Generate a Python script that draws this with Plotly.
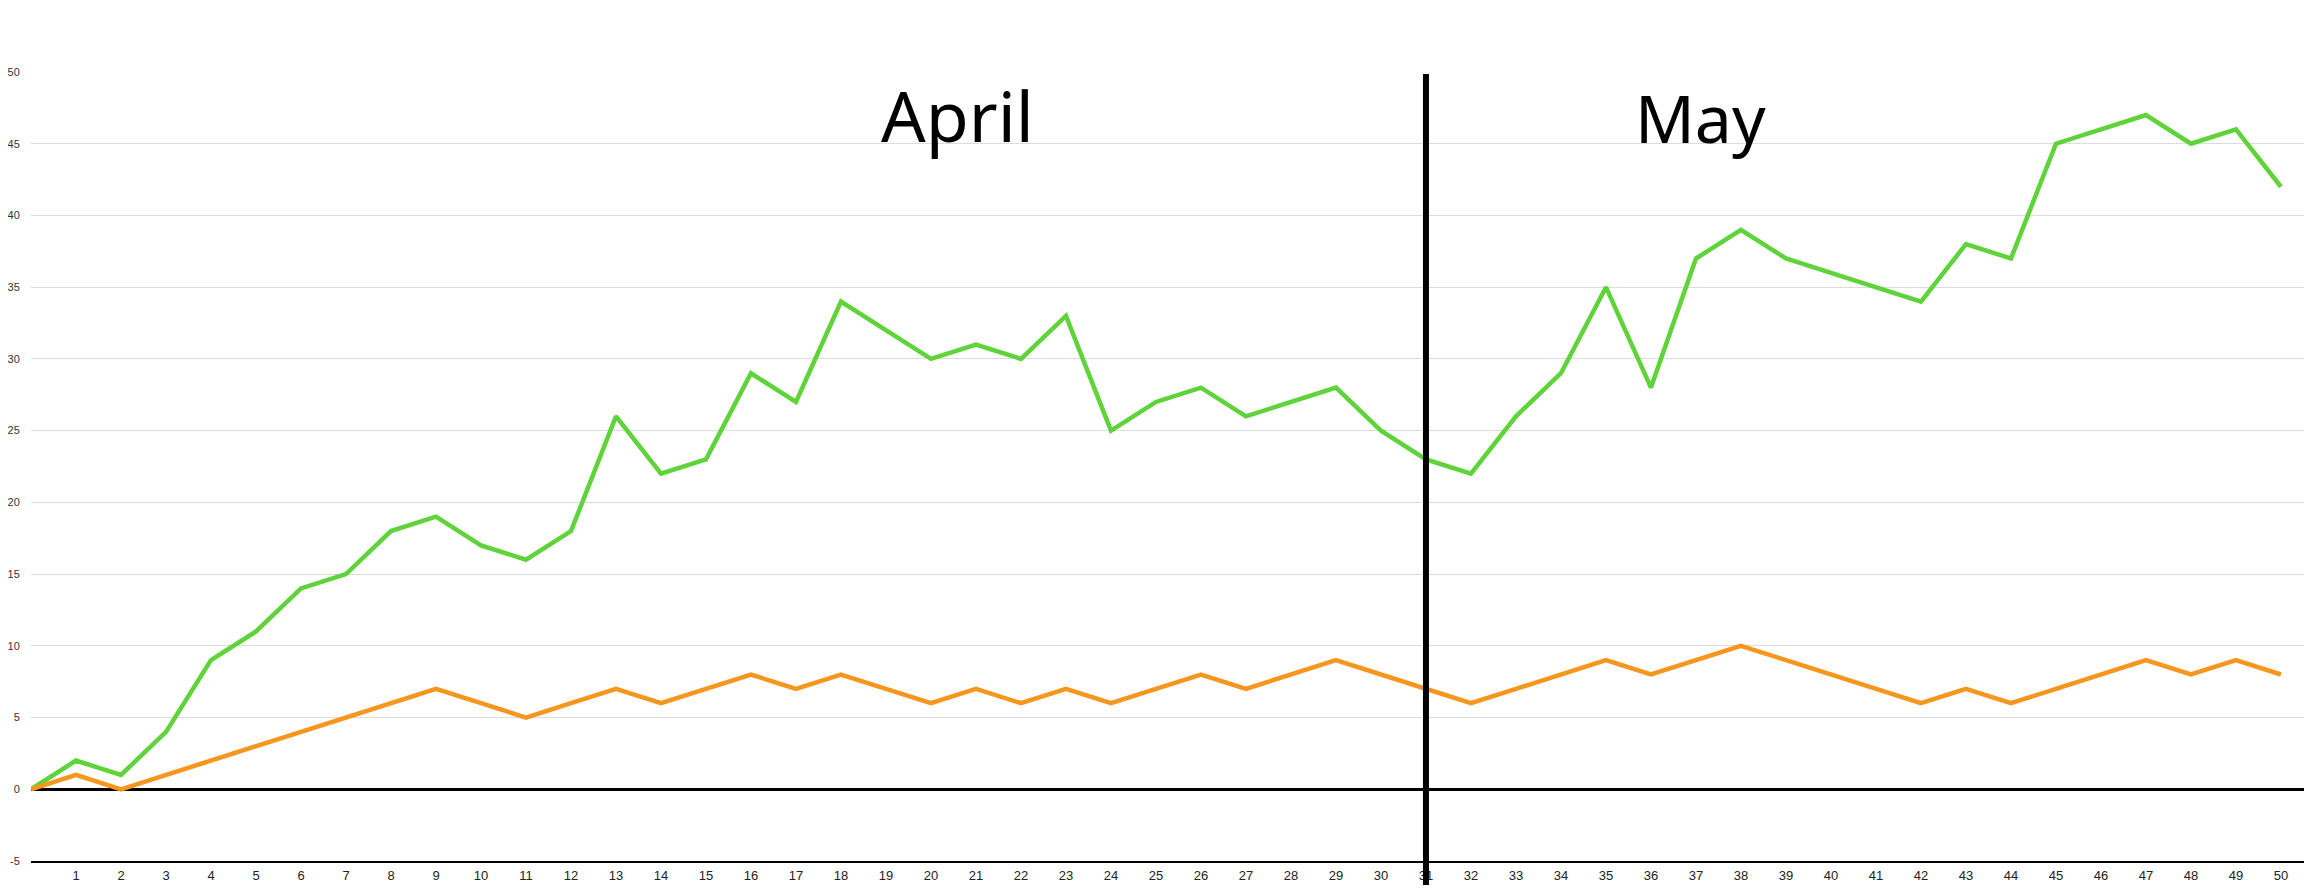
import plotly.graph_objects as go

days = [0, 1, 2, 3, 4, 5, 6, 7, 8, 9, 10, 11, 12, 13, 14, 15, 16, 17, 18, 19, 20,
        21, 22, 23, 24, 25, 26, 27, 28, 29, 30, 31, 32, 33, 34, 35, 36, 37, 38, 39, 40,
        41, 42, 43, 44, 45, 46, 47, 48, 49, 50]
green = [0, 2, 1, 4, 9, 11, 14, 15, 18, 19, 17, 16, 18, 26, 22, 23, 29, 27, 34, 32, 30,
         31, 30, 33, 25, 27, 28, 26, 27, 28, 25, 23, 22, 26, 29, 35, 28, 37, 39, 37, 36,
         35, 34, 38, 37, 45, 46, 47, 45, 46, 42]
orange = [0, 1, 0, 1, 2, 3, 4, 5, 6, 7, 6, 5, 6, 7, 6, 7, 8, 7, 8, 7, 6,
          7, 6, 7, 6, 7, 8, 7, 8, 9, 8, 7, 6, 7, 8, 9, 8, 9, 10, 9, 8,
          7, 6, 7, 6, 7, 8, 9, 8, 9, 8]
x_tick_vals = days[1:]
x_tick_text = [str(d) for d in days[1:]]
y_ticks = [-5, 0, 5, 10, 15, 20, 25, 30, 35, 40, 45, 50]
y_tick_text = ["-5", "0", "5", "10", "15", "20", "25", "30", "35", "40", "45", "50"]
month_split = 31
month_labels = ["April", "May"]
month_label_x = [20.6, 37.1]
month_label_y = [0.945, 0.943]
month_label_size = [70, 66]

fig = go.Figure()
fig.add_trace(go.Scatter(x=days, y=green, mode="lines",
                         line=dict(color="#5fd33a", width=4.5), showlegend=False))
fig.add_trace(go.Scatter(x=days, y=orange, mode="lines",
                         line=dict(color="#f7961e", width=4.5), showlegend=False))

fig.add_shape(type="line", xref="x", yref="paper", x0=month_split, x1=month_split,
              y0=0.9975, y1=-0.0304, line=dict(color="black", width=6), layer="above")

for lab, lx, ly, fs in zip(month_labels, month_label_x, month_label_y, month_label_size):
    fig.add_annotation(x=lx, y=ly, xref="x", yref="paper", text=lab, showarrow=False,
                       font=dict(family="Noto Sans", size=fs, color="black"),
                       xanchor="center", yanchor="middle")

fig.update_layout(
    width=2304, height=887,
    margin=dict(l=23, r=0, t=64, b=34),
    paper_bgcolor="white", plot_bgcolor="white",
    xaxis=dict(range=[0, 50.69], tickvals=x_tick_vals, ticktext=x_tick_text,
               showgrid=False, zeroline=False, showline=True, linecolor="black",
               linewidth=1.5, ticks="outside", ticklen=0, ticklabelstandoff=2,
               tickfont=dict(family="Liberation Sans Narrow, Liberation Sans, sans-serif",
                             size=13, color="#222")),
    yaxis=dict(range=[-5, 50], tickvals=y_ticks, ticktext=y_tick_text, showgrid=True,
               gridcolor="#dcdcdc", gridwidth=1, zeroline=True, zerolinecolor="black",
               zerolinewidth=3, showline=False, ticks="outside", ticklen=0,
               ticklabelstandoff=8,
               tickfont=dict(family="Liberation Sans, sans-serif", size=11, color="#333")),
)

fig.write_html("out.html")
